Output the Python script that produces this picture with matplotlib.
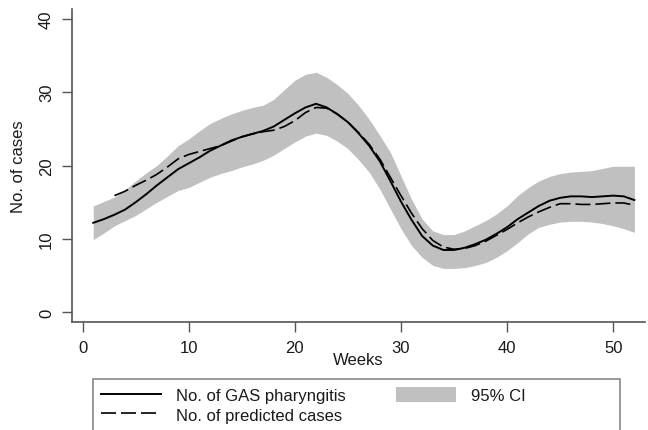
import numpy as np
import matplotlib
matplotlib.use('Agg')
import matplotlib.pyplot as plt
from matplotlib.lines import Line2D
from matplotlib.patches import Patch, Rectangle

plt.rcParams['font.family'] = ['Liberation Sans', 'DejaVu Sans']

weeks = list(range(1, 53))
observed = [12.2, 12.7, 13.3, 14.0, 15.0, 16.1, 17.3, 18.4, 19.5, 20.3,
            21.1, 22.0, 22.7, 23.4, 23.9, 24.3, 24.7, 25.3, 26.2, 27.1,
            27.9, 28.4, 27.9, 27.0, 25.9, 24.4, 22.7, 20.6, 17.9, 15.1,
            12.6, 10.4, 9.1, 8.5, 8.5, 8.8, 9.3, 9.9, 10.7, 11.6,
            12.7, 13.6, 14.5, 15.2, 15.6, 15.8, 15.8, 15.7, 15.8, 15.9,
            15.8, 15.3]

pred_weeks = list(range(3, 53))
predicted = [15.9, 16.5, 17.3, 18.0, 18.8, 19.8, 20.9, 21.5, 21.9, 22.3,
             22.7, 23.3, 23.9, 24.3, 24.6, 24.8, 25.3, 26.1, 27.2, 27.9,
             27.8, 27.0, 25.9, 24.5, 22.9, 20.9, 18.4, 15.9, 13.5, 11.4,
             9.8, 8.9, 8.6, 8.7, 9.1, 9.7, 10.5, 11.3, 12.2, 13.0,
             13.7, 14.3, 14.8, 14.8, 14.7, 14.7, 14.8, 14.9, 14.9, 14.6]

ci_upper = [14.5, 15.1, 15.7, 16.7, 17.9, 19.0, 20.0, 21.3, 22.7, 23.6,
            24.7, 25.7, 26.4, 27.0, 27.5, 27.9, 28.2, 29.0, 30.3, 31.6,
            32.4, 32.7, 32.0, 31.0, 29.8, 28.2, 26.3, 24.1, 21.8, 18.6,
            15.4, 12.7, 11.1, 10.6, 10.6, 11.1, 11.8, 12.5, 13.4, 14.5,
            15.9, 17.0, 17.9, 18.5, 18.9, 19.1, 19.2, 19.3, 19.6, 19.9,
            19.9, 19.9]
ci_lower = [9.9, 10.8, 11.8, 12.5, 13.2, 14.1, 15.0, 15.8, 16.6, 17.0,
            17.7, 18.4, 18.9, 19.3, 19.8, 20.2, 20.7, 21.4, 22.3, 23.2,
            24.0, 24.4, 24.1, 23.3, 22.3, 20.8, 19.1, 16.8, 14.1, 11.4,
            9.1, 7.5, 6.4, 6.0, 6.0, 6.1, 6.4, 6.8, 7.5, 8.4,
            9.5, 10.7, 11.6, 12.0, 12.3, 12.4, 12.4, 12.3, 12.1, 11.8,
            11.4, 10.9]

x_ticks = [0, 10, 20, 30, 40, 50]
y_ticks = [0, 10, 20, 30, 40]

W, H = 648, 431
fig = plt.figure(figsize=(W / 100, H / 100), dpi=100)
ax = fig.add_axes([72 / W, (H - 323) / H, (645 - 72) / W, (323 - 10) / H])

band_col = '#c0c0c0'
axis_col = '#555555'
text_col = '#1a1a1a'
dash = (0, (9, 3))
fs = 12

ax.fill_between(weeks, ci_lower, ci_upper, color=band_col, lw=0)
ax.plot(weeks, observed, color='black', lw=1.4)
ax.plot(pred_weeks, predicted, color='black', lw=1.2, linestyle=dash)

ax.set_xlim(-1, 53)
ax.set_ylim(-1.3, 41.3)
ax.set_xticks(x_ticks)
ax.set_yticks(y_ticks)
ax.tick_params(axis='both', direction='out', length=7, width=1, color=axis_col,
               labelsize=fs, pad=6, labelcolor=text_col)
ax.tick_params(axis='y', labelrotation=90)
for lab in ax.get_yticklabels():
    lab.set_va('center')
for side in ['top', 'right']:
    ax.spines[side].set_visible(False)
for side in ['left', 'bottom']:
    ax.spines[side].set_color(axis_col)
    ax.spines[side].set_linewidth(1.2)

ax.set_xlabel('Weeks', fontsize=fs, labelpad=-2, color=text_col)
ax.set_ylabel('No. of cases', fontsize=fs, labelpad=9, color=text_col)

# legend box (runs off the bottom of the figure like the original)
fig.patches.append(Rectangle((93 / W, -0.05), (620 - 93) / W, (H - 380) / H + 0.05,
                             transform=fig.transFigure, facecolor='none',
                             edgecolor='#888888', lw=1.2))

handles = [Line2D([], [], color='black', lw=1.4),
           Line2D([], [], color='black', lw=1.2, linestyle=dash),
           Patch(facecolor=band_col, edgecolor='none')]
labels = ['No. of GAS pharyngitis', 'No. of predicted cases', '95% CI']
leg = fig.legend(handles, labels, ncol=2, loc='upper left',
                 bbox_to_anchor=(101 / W, 1 - 388 / H),
                 fontsize=fs, frameon=False, handlelength=3.6, handleheight=1.0,
                 handletextpad=0.9, borderpad=0, labelspacing=0.22,
                 columnspacing=3.0, borderaxespad=0)
for t in leg.get_texts():
    t.set_color(text_col)

fig.savefig('out.png', dpi=100)
